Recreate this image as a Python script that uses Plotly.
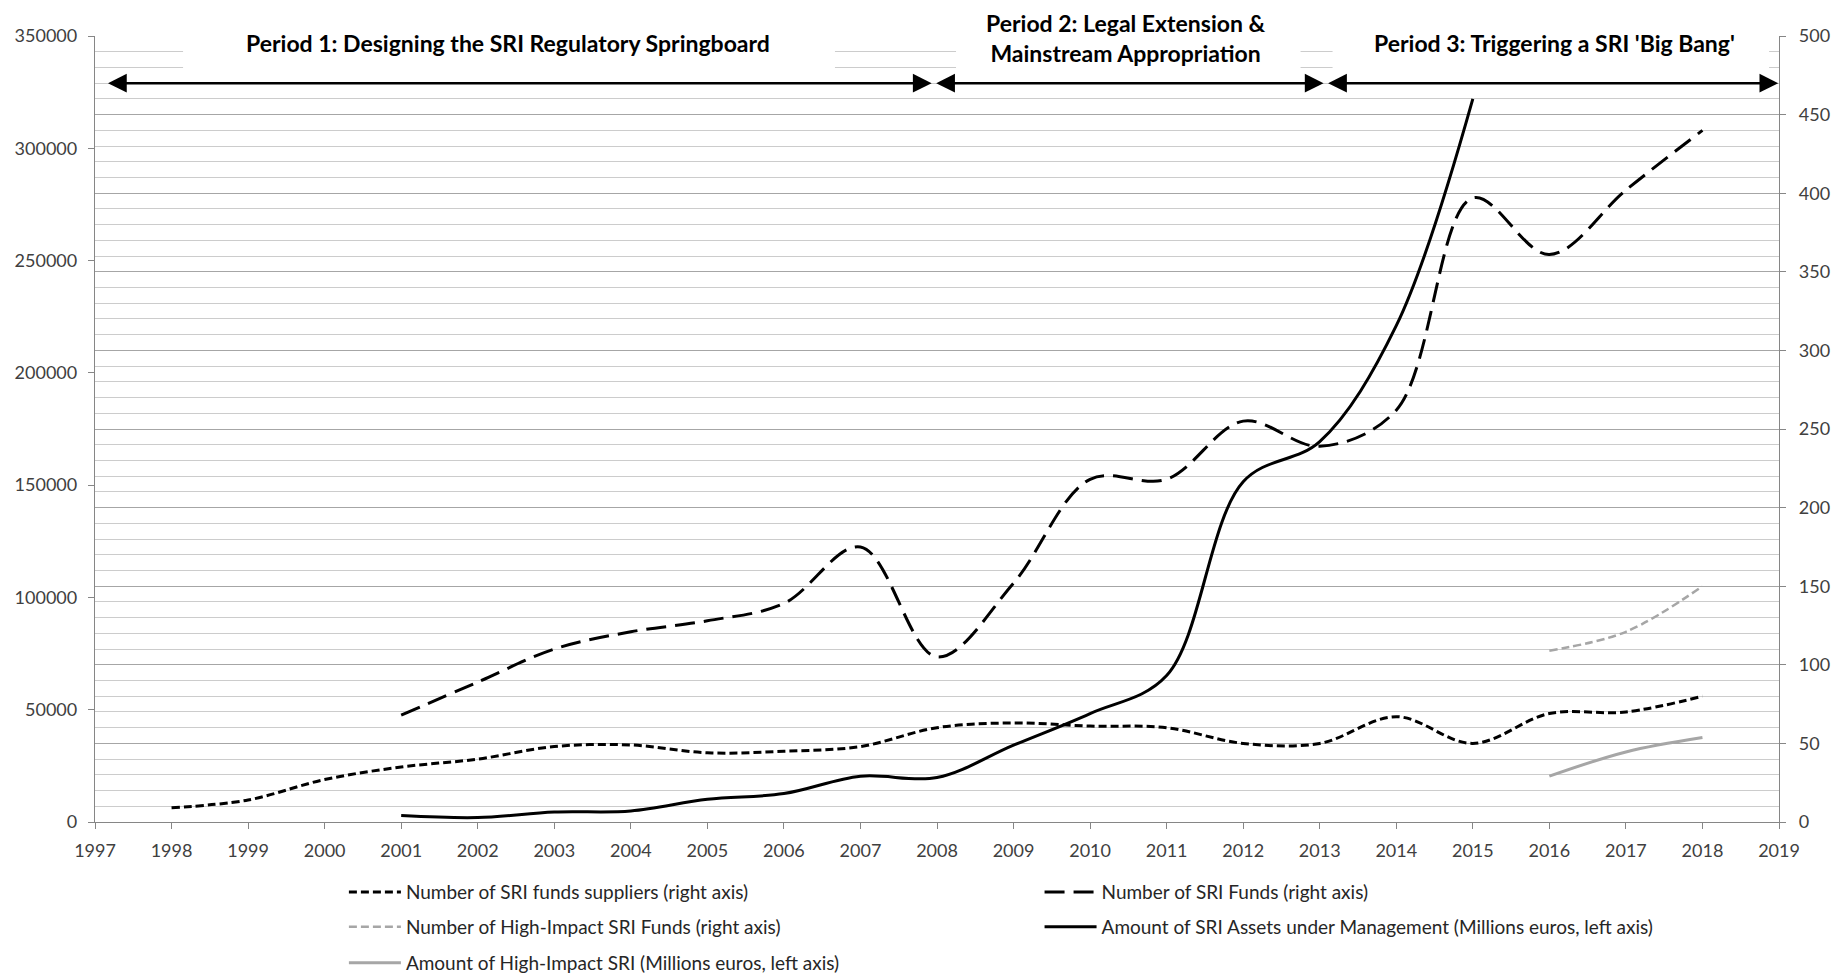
import plotly.graph_objects as go

# ---------------- data ----------------
years_suppliers = list(range(1998, 2019))
suppliers = [9, 14, 27, 35, 40, 48, 49, 44, 45, 48, 60, 63, 61, 60, 50, 50, 67, 50, 69, 70, 80]

years_funds = list(range(2001, 2019))
sri_funds = [68, 89, 110, 121, 128, 139, 175, 105, 152, 218, 218, 255, 239, 262, 397, 361, 402, 440]

years_hi_funds = [2016, 2017, 2018]
hi_funds = [109, 121, 150]

years_aum = list(range(2001, 2016))
aum = [2850, 1960, 4460, 4900, 10100, 12650, 20370, 19800, 34200, 48300, 65200, 151500, 169400, 221000, 322000]

years_hi_amount = [2016, 2017, 2018]
hi_amount = [20400, 31200, 37600]

names = [
    "Number of SRI funds suppliers (right axis)",
    "Number of SRI Funds (right axis)",
    "Number of High-Impact SRI Funds (right axis)",
    "Amount of SRI Assets under Management (Millions euros, left axis)",
    "Amount of High-Impact SRI (Millions euros, left axis)",
]

periods = [
    "Period 1: Designing the SRI Regulatory Springboard",
    "Period 2: Legal Extension &<br>Mainstream Appropriation",
    "Period 3: Triggering a SRI 'Big Bang'",
]
period_bounds = [(1997.15, 2007.93), (2007.97, 2013.05), (2013.09, 2018.99)]

FONT = "Lato, 'Open Sans', sans-serif"
GRAY = "#a6a6a6"

fig = go.Figure()
fig.add_trace(go.Scatter(x=years_suppliers, y=suppliers, name=names[0], yaxis="y2",
                         mode="lines", line=dict(color="black", width=3, dash="8px,4px",
                                                 shape="spline", smoothing=1.0),
                         legend="legend"))
fig.add_trace(go.Scatter(x=years_funds, y=sri_funds, name=names[1], yaxis="y2",
                         mode="lines", line=dict(color="black", width=3, dash="20px,9px",
                                                 shape="spline", smoothing=1.0),
                         legend="legend2"))
fig.add_trace(go.Scatter(x=years_hi_funds, y=hi_funds, name=names[2], yaxis="y2",
                         mode="lines", line=dict(color=GRAY, width=2.5, dash="8px,4px",
                                                 shape="spline", smoothing=1.0),
                         legend="legend3"))
fig.add_trace(go.Scatter(x=years_aum, y=aum, name=names[3], yaxis="y",
                         mode="lines", line=dict(color="black", width=3,
                                                 shape="spline", smoothing=1.0),
                         legend="legend4"))
fig.add_trace(go.Scatter(x=years_hi_amount, y=hi_amount, name=names[4], yaxis="y",
                         mode="lines", line=dict(color=GRAY, width=3,
                                                 shape="spline", smoothing=1.0),
                         legend="legend5"))

tickfont = dict(family=FONT, size=18, color="#404040")
legfont = dict(family=FONT, size=19, color="#262626")

def leg(x, y):
    return dict(x=x, y=y, xanchor="left", yanchor="middle", orientation="h",
                bgcolor="rgba(0,0,0,0)", borderwidth=0, font=legfont, itemwidth=52)

col1, col2 = 0.1478, 0.5609
r1, r2, r3 = -0.0891, -0.1336, -0.1794

# the page body has an 8px margin; margins compensate so the plot area sits at
# x 95..1779, y 36..822 in the browser window
fig.update_layout(
    width=1843, height=973,
    margin=dict(l=87, r=72, t=28, b=159, autoexpand=False),
    paper_bgcolor="white", plot_bgcolor="white",
    font=dict(family=FONT),
    showlegend=True,
    legend=leg(col1, r1),
    legend2=leg(col2, r1),
    legend3=leg(col1, r2),
    legend4=leg(col2, r2),
    legend5=leg(col1, r3),
    xaxis=dict(range=[1997, 2019], dtick=1, tick0=1997, showgrid=False, zeroline=False,
               showline=True, linecolor="#868686", linewidth=1.3,
               ticks="outside", ticklen=6, tickcolor="#868686",
               tickfont=tickfont, ticklabelstandoff=6),
    yaxis=dict(range=[0, 350000], dtick=50000, tickformat="d", showgrid=False, zeroline=False,
               showline=True, linecolor="#868686", linewidth=1.3,
               ticks="outside", ticklen=6, tickcolor="#868686",
               tickfont=tickfont, ticklabelstandoff=7),
    yaxis2=dict(range=[0, 500], dtick=50, overlaying="y", side="right",
                showgrid=True, gridcolor="#a6a6a6", gridwidth=1, zeroline=False,
                showline=True, linecolor="#868686", linewidth=1.3,
                ticks="outside", ticklen=6, tickcolor="#868686",
                tickfont=tickfont, ticklabelstandoff=9,
                minor=dict(dtick=10, showgrid=True, gridcolor="#cccccc", gridwidth=1)),
)

# white boxes behind the period titles
boxes = [(0.0523, 0.4394), (0.5113, 0.7159), (0.7349, 0.9941)]
for x0, x1 in boxes:
    fig.add_shape(type="rect", xref="paper", yref="paper", x0=x0, x1=x1, y0=0.931, y1=1.04,
                  fillcolor="white", line=dict(width=0), layer="above")

title_pos = [(0.2452, 0.9905), (0.6122, 0.9975), (0.8664, 0.9905)]
for txt, (px, py) in zip(periods, title_pos):
    fig.add_annotation(text="<b>" + txt + "</b>", xref="paper", yref="paper", x=px, y=py,
                       xanchor="center", yanchor="middle", showarrow=False,
                       font=dict(family=FONT, size=23, color="black"))

for a, b in period_bounds:
    fig.add_annotation(x=b, y=470, xref="x", yref="y2", ax=a, ay=470, axref="x", ayref="y2",
                       text="", showarrow=True, arrowside="end+start",
                       arrowhead=2, startarrowhead=2, arrowsize=1.5, startarrowsize=1.5,
                       arrowwidth=2.5, arrowcolor="black", standoff=0, startstandoff=0)

fig.write_html("out.html")
